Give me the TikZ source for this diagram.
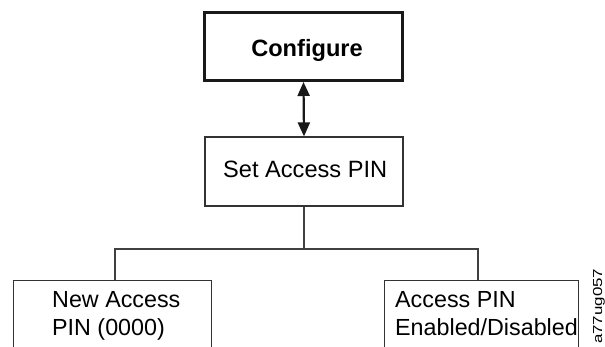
\documentclass[tikz,border=0pt]{standalone}
\usepackage{fontspec}
\setmainfont{Liberation Sans}
\usetikzlibrary{arrows.meta}
\begin{document}
\begin{tikzpicture}[x=1pt,y=-1pt,
  thinbox/.style={draw=black!80, line width=1.2pt, inner sep=0pt},
  thickbox/.style={draw=black!90, line width=3pt, inner sep=0pt},
  wire/.style={draw=black!75, line width=1.2pt},
  txt/.style={font=\fontsize{23.3}{28}\selectfont, inner sep=0pt, align=left},
  toptxt/.style={font=\fontsize{23.6}{28}\selectfont, inner sep=0pt},
  dblarrow/.style={line width=2.2pt, black!90, {Triangle[length=14pt,width=12pt]}-{Triangle[length=14pt,width=12pt]}}
]
\useasboundingbox (0,0) rectangle (605,347);
\begin{scope}
\clip (0,0) rectangle (605,347);
% top box
\node[thickbox, minimum width=198pt, minimum height=68pt] (cfg) at (303.5,46.5) {};
\node[toptxt, font=\fontsize{23.6}{28}\selectfont\bfseries, anchor=base] (cfgt) at (307,57) {Configure};
% set access pin box
\node[thinbox, minimum width=198pt, minimum height=69pt] (sap) at (304,171.5) {};
\node[toptxt, anchor=base west] (sapt) at (223,177.5) {Set Access PIN};
% arrow
\draw[dblarrow] (cfg.south) -- (sap.north);
% bottom boxes
\node[thinbox, minimum width=198pt, minimum height=80pt, anchor=north west] (lbox) at (13,280) {};
\node[thinbox, minimum width=194pt, minimum height=80pt, anchor=north west] (rbox) at (384,280) {};
\node[txt, anchor=base west] (lt) at (52,335) {New Access\\PIN (0000)};
\node[txt, anchor=base west] (rt) at (395,335) {Access PIN\\Enabled/Disabled};
% connectors
\coordinate (j) at (304,249);
\coordinate (jl) at (115,249);
\coordinate (jr) at (478,249);
\draw[wire] (sap.south) -- (j);
\draw[wire] (jl |- lbox.north) -- (jl) -- (jr) -- (jr |- rbox.north);
% id label
\node[rotate=90, anchor=base west, inner sep=0pt] (id) at (602,344) {\scalebox{1.3}[1]{\fontsize{13}{13}\selectfont a77ug057}};
\end{scope}
\end{tikzpicture}
\end{document}
